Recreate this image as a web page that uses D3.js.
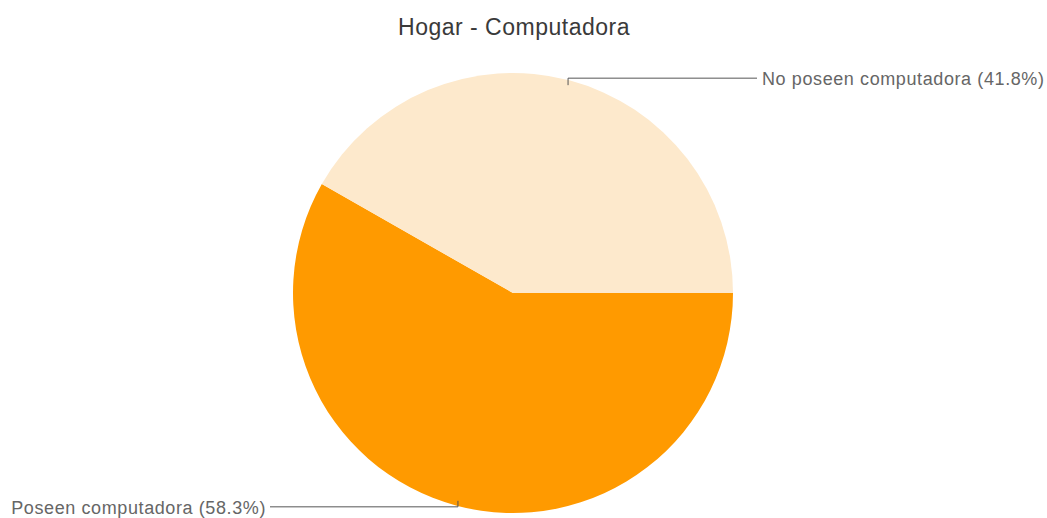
<!DOCTYPE html>
<html>
<head>
<meta charset="utf-8">
<script src="https://cdn.jsdelivr.net/npm/d3@7"></script>
<style>
  body { margin: 0; background: #fff; }
  text { font-family: "Liberation Sans", Arial, sans-serif; }
</style>
</head>
<body>
<div id="chart"></div>
<script>
// Data
const categories = ["Poseen computadora", "No poseen computadora"];
const values = [58.3, 41.8];
const colors = ["#FF9A00", "#FDE9CC"];

const width = 1047, height = 518;
const cx = 513, cy = 293, radius = 220;

const svg = d3.select("#chart").append("svg")
    .attr("width", width)
    .attr("height", height);

svg.append("text")
    .attr("x", 514)
    .attr("y", 35)
    .attr("text-anchor", "middle")
    .style("font-size", "23px")
    .style("letter-spacing", "0.5px")
    .style("fill", "#3a3a3a")
    .text("Hogar - Computadora");

const data = categories.map((c, i) => ({ name: c, value: values[i], color: colors[i] }));

// start at 3 o'clock, go clockwise
const pie = d3.pie().sort(null).value(d => d.value)
    .startAngle(Math.PI / 2).endAngle(Math.PI / 2 + 2 * Math.PI);
const arc = d3.arc().innerRadius(0).outerRadius(radius);

const g = svg.append("g").attr("transform", `translate(${cx},${cy})`);

const arcs = pie(data);
g.selectAll("path")
    .data(arcs)
    .enter()
    .append("path")
    .attr("d", arc)
    .attr("fill", d => d.data.color);

// Leader lines + labels
const pct = d => `${d.data.name} (${d.data.value.toFixed(1)}%)`;

arcs.forEach(d => {
    const mid = (d.startAngle + d.endAngle) / 2;
    const r0 = radius - 5;
    const px = cx + Math.sin(mid) * r0;
    const py = cy - Math.cos(mid) * r0;
    const top = py < cy;
    const ly = top ? py - 7 : py + 6;
    const lx2 = top ? 757 : 270;

    svg.append("path")
        .attr("d", `M${px},${py}L${px},${ly}L${lx2},${ly}`)
        .attr("fill", "none")
        .attr("stroke", "#555")
        .attr("stroke-width", 1);

    svg.append("text")
        .attr("x", top ? lx2 + 5 : lx2 - 4)
        .attr("y", ly + 7)
        .attr("text-anchor", top ? "start" : "end")
        .style("font-size", "18px")
        .style("letter-spacing", "0.6px")
        .style("fill", "#666")
        .text(pct(d));
});
</script>
</body>
</html>
